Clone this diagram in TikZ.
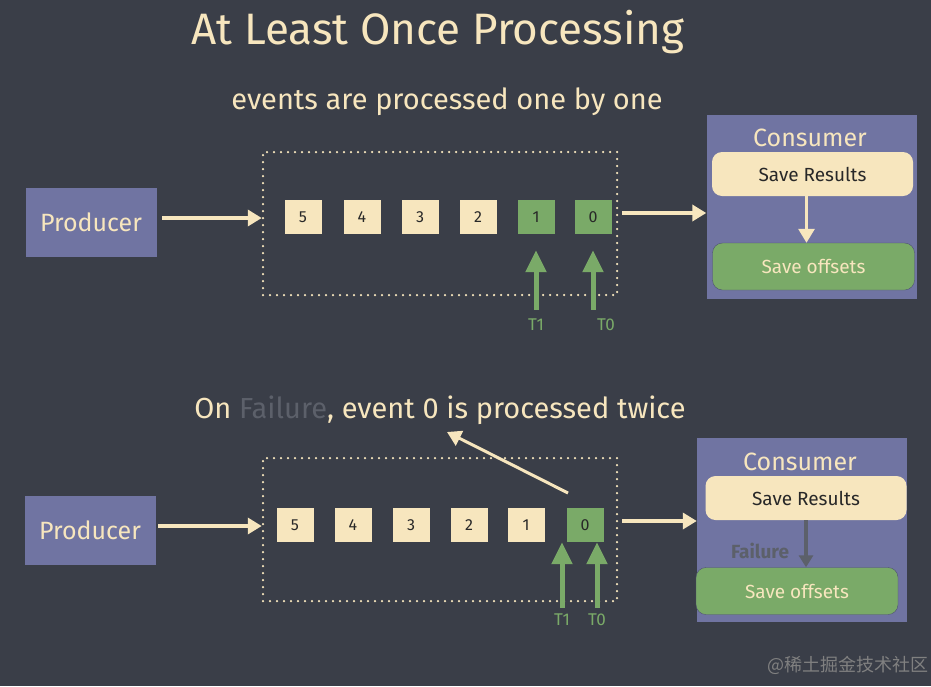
\documentclass[tikz,border=0pt]{standalone}
\usepackage{fontspec}
\setmainfont{Fira Sans}
\newfontfamily\cjkfont{Noto Sans CJK SC}
\usetikzlibrary{arrows.meta}
\definecolor{board}{RGB}{58,62,72}
\definecolor{chalk}{RGB}{247,230,190}
\definecolor{leaf}{RGB}{122,170,104}
\definecolor{slate}{RGB}{112,116,162}
\definecolor{ghost}{RGB}{92,96,106}
\definecolor{ink}{RGB}{40,40,40}
\newcommand{\fs}[1]{\fontsize{#1}{#1}\selectfont}

\begin{document}
\begin{tikzpicture}[
  x=1pt, y=-1pt,
  every node/.style={inner sep=0pt},
  event/.style={fill=chalk, minimum width=37pt, minimum height=34pt, text=ink, font=\fs{16}},
  done/.style={event, fill=leaf},
  actor/.style={fill=slate, text=chalk, minimum width=131pt, minimum height=69pt, font=\fs{25}},
  queue/.style={draw=chalk, line width=2.5pt, dash pattern=on 0pt off 7pt, line cap=round, minimum width=354pt, minimum height=143pt},
  group/.style={fill=slate, minimum width=210pt, minimum height=184pt},
  stepA/.style={fill=chalk, rounded corners=10pt, minimum width=201pt, minimum height=44pt, text=ink, font=\fs{19}},
  stepB/.style={fill=leaf, draw=slate!70!black, rounded corners=10pt, minimum width=202pt, minimum height=47pt, text=chalk, font=\fs{19}},
  flow/.style={draw=chalk, line width=3.5pt, -{Triangle[length=14pt, width=16pt]}},
  upflow/.style={draw=leaf, line width=5pt, -{Triangle[length=22pt, width=20pt]}},
  failflow/.style={draw=ghost, line width=3.5pt, -{Triangle[length=12pt, width=14pt]}},
  tag/.style={text=leaf, font=\fs{17}},
  caption/.style={text=chalk, font=\fs{29}}
]
  \fill[board] (0,0) rectangle (931,686);
  \useasboundingbox (0,0) rectangle (931,686);

  \node[text=chalk, font=\fs{44}] (title) at (438,32) {At Least Once Processing};
  \node[caption] (capA) at (447,102) {events are processed one by one};

  % normal run
  \node[actor] (prodA) at (91,222) {Producer};
  \node[queue] (qA) at (440,223.5) {};
  \node[event] (q5A) at (303,217) {5};
  \node[event] (q4A) at (362,217) {4};
  \node[event] (q3A) at (420,217) {3};
  \node[event] (q2A) at (478,217) {2};
  \node[done] (q1A) at (536,217) {1};
  \node[done] (q0A) at (593,217) {0};
  \node[tag] (t1A) at (536,325) {T1};
  \node[tag] (t0A) at (606,325) {T0};

  \node[group] (consA) at (811.5,206.5) {};
  \node[text=chalk, font=\fs{25}] (nameA) at (810,138) {Consumer};
  \node[stepA] (resA) at (812.5,174) {Save Results};
  \node[stepB] (offA) at (813.5,266.5) {Save offsets};

  \coordinate (inA) at (162,218);
  \coordinate (outA) at (622,213);
  \draw[flow] (inA) -- (inA -| qA.west);
  \draw[flow] (outA) -- (outA -| consA.west);
  \draw[upflow, shorten <=9pt] (t1A.north) -- ([yshift=-16pt]q1A.south);
  \draw[upflow, shorten <=9pt] (q0A.south |- t0A.north) -- ([yshift=-16pt]q0A.south);
  \draw[flow, line width=3pt] ([xshift=-6pt]resA.south) -- ([xshift=-6pt]resA.south |- offA.north);

  % failure run
  \node[caption] (capB) at (440,410) {On \textcolor{ghost}{Failure}, event 0 is processed twice};
  \node[actor] (prodB) at (90,530) {Producer};
  \node[queue] (qB) at (440,529.5) {};
  \node[event] (q5B) at (295,525) {5};
  \node[event] (q4B) at (353,525) {4};
  \node[event] (q3B) at (411,525) {3};
  \node[event] (q2B) at (469,525) {2};
  \node[event] (q1B) at (526,525) {1};
  \node[done] (q0B) at (585,525) {0};
  \node[tag] (t1B) at (562,620) {T1};
  \node[tag] (t0B) at (597,620) {T0};

  \node[group] (consB) at (802,529.5) {};
  \node[text=chalk, font=\fs{25}] (nameB) at (800,462) {Consumer};
  \node[stepA] (resB) at (806,498) {Save Results};
  \node[stepB] (offB) at (797,591) {Save offsets};
  \node[text=ghost, font=\bfseries\fs{19}] (failB) at (760,551) {Failure};

  \coordinate (inB) at (158,526);
  \coordinate (outB) at (622,521);
  \coordinate (fromB) at (568,493);
  \coordinate (tipB) at (447,432);
  \draw[flow] (inB) -- (inB -| qB.west);
  \draw[flow] (outB) -- (outB -| consB.west);
  \draw[flow, line width=3pt] (fromB) -- (tipB);
  \draw[upflow, shorten <=6pt] (t1B.north) -- (t1B.north |- q0B.south);
  \draw[upflow, shorten <=6pt] (t0B.north) -- (t0B.north |- q0B.south);
  \draw[failflow] (resB.south) -- (resB.south |- offB.north);

  \node[text=gray, font=\fs{18}] (mark) at (848,665) {\cjkfont @稀土掘金技术社区};
\end{tikzpicture}
\end{document}
